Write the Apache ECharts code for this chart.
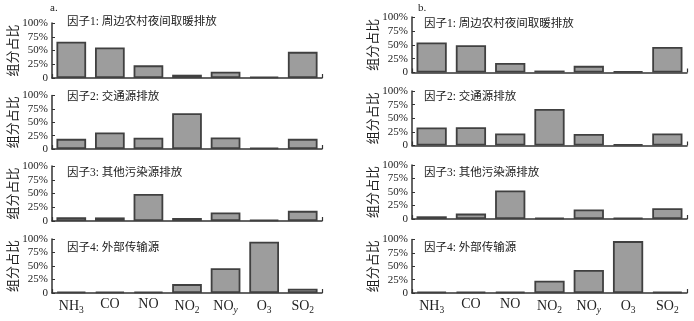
<!DOCTYPE html>
<html>
<head>
<meta charset="utf-8">
<script src="https://cdn.jsdelivr.net/npm/echarts@6/dist/echarts.min.js"></script>
<style>
html, body { margin: 0; padding: 0; background: #fff; }
#chart { width: 694px; height: 321px; }
</style>
</head>
<body>
<div id="chart"></div>
<script>
  // pollutants on the x axis
  var categories = ['NH3', 'CO', 'NO', 'NO2', 'NOy', 'O3', 'SO2']
  var factorNames = ['因子1: 周边农村夜间取暖排放', '因子2: 交通源排放', '因子3: 其他污染源排放', '因子4: 外部传输源']
  var yTicks = [0, 25, 50, 75, 100]

  // panel a
  var a1 = [66, 55.5, 23, 6, 11.5, 2.5, 47.5]
  var a2 = [19, 31, 21, 67, 21.5, 2.5, 19]
  var a3 = [7, 6.5, 49, 5.5, 15.5, 2, 18.5]
  var a4 = [2.5, 2.5, 2.5, 16.5, 46, 95, 8]
  // panel b
  var b1 = [54, 49, 17, 3.5, 12, 2, 46]
  var b2 = [33, 33.5, 22, 67, 21, 2, 22]
  var b3 = [5, 10, 53, 2.5, 17.5, 2, 20]
  var b4 = [2.5, 2.5, 2.5, 23, 43, 97, 2.5]

  var serif = '"Liberation Serif", "Noto Sans CJK SC", serif'
  var panels = [
    { tag: 'a.', series: [a1, a2, a3, a4], left: 52, width: 270, tops: [23, 95.5, 166, 239], heights: [55, 53.5, 55, 54], nameGap: 32, titleLeft: 67, titleTops: [16, 91, 167, 242] },
    { tag: 'b.', series: [b1, b2, b3, b4], left: 412, width: 275, tops: [17, 91, 165, 239.5], heights: [55.5, 54.5, 54, 53.5], nameGap: 25, titleLeft: 424, titleTops: [18, 91, 167, 242] }
  ]

  function catLabel (v) {
    var m = v.match(/^([A-Z]+?)([0-9y]?)$/)
    if (!m[2]) return '{n|' + v + '}'
    return '{n|' + m[1] + '}{' + (m[2] === 'y' ? 'i' : 's') + '|' + m[2] + '}'
  }

  var grid = []
  var xAxis = []
  var yAxis = []
  var series = []
  var title = []

  panels.forEach(function (p, pi) {
    title.push({
      text: p.tag,
      left: p.left - 2 + (pi ? 8 : 0),
      top: 3,
      padding: 0,
      textStyle: { fontFamily: serif, fontSize: 11, fontWeight: 'normal', color: '#222' }
    })
    p.series.forEach(function (vals, i) {
      var idx = grid.length
      grid.push({ left: p.left, width: p.width, top: p.tops[i], height: p.heights[i] })
      title.push({
        text: factorNames[i],
        left: p.titleLeft,
        top: p.titleTops[i],
        padding: 0,
        textStyle: { fontFamily: serif, fontSize: 11.5, fontWeight: 'normal', color: '#222' }
      })
      xAxis.push({
        type: 'category',
        gridIndex: idx,
        data: categories,
        axisLine: { lineStyle: { color: '#333', width: 1.5 } },
        axisTick: { show: true, inside: true, length: 4, interval: function (n) { return n === 0 }, lineStyle: { color: '#333', width: 1.2 } },
        axisLabel: {
          show: i === 3,
          margin: 4,
          interval: 0,
          formatter: catLabel,
          rich: {
            n: { fontFamily: serif, fontSize: 14, color: '#222' },
            s: { fontFamily: serif, fontSize: 9.5, color: '#222', padding: [9, 0, 0, 0] },
            i: { fontFamily: serif, fontSize: 9.5, fontStyle: 'italic', color: '#222', padding: [9, 0, 0, 0] }
          }
        }
      })
      yAxis.push({
        type: 'value',
        gridIndex: idx,
        min: yTicks[0],
        max: yTicks[yTicks.length - 1],
        interval: 25,
        name: '组分占比',
        nameLocation: 'middle',
        nameGap: p.nameGap,
        nameTextStyle: { fontFamily: '"Noto Sans CJK SC"', fontSize: 13, color: '#222' },
        axisLine: { show: true, lineStyle: { color: '#333', width: 1.5 } },
        axisTick: { show: true, inside: true, length: 3, lineStyle: { color: '#333' } },
        splitLine: { show: false },
        axisLabel: {
          margin: 4,
          fontFamily: serif,
          fontSize: 11,
          color: '#222',
          formatter: function (v) { return v === 0 ? '0' : v + '%' }
        }
      })
      series.push({
        type: 'bar',
        xAxisIndex: idx,
        yAxisIndex: idx,
        data: vals,
        barWidth: '77%',
        itemStyle: { color: '#9d9d9d', borderColor: '#404040', borderWidth: 1.8 },
        animation: false
      })
    })
  })

  var chart = echarts.init(document.getElementById('chart'))
  chart.setOption({
    backgroundColor: '#fff',
    animation: false,
    title: title,
    grid: grid,
    xAxis: xAxis,
    yAxis: yAxis,
    series: series
  })
</script>
</body>
</html>
